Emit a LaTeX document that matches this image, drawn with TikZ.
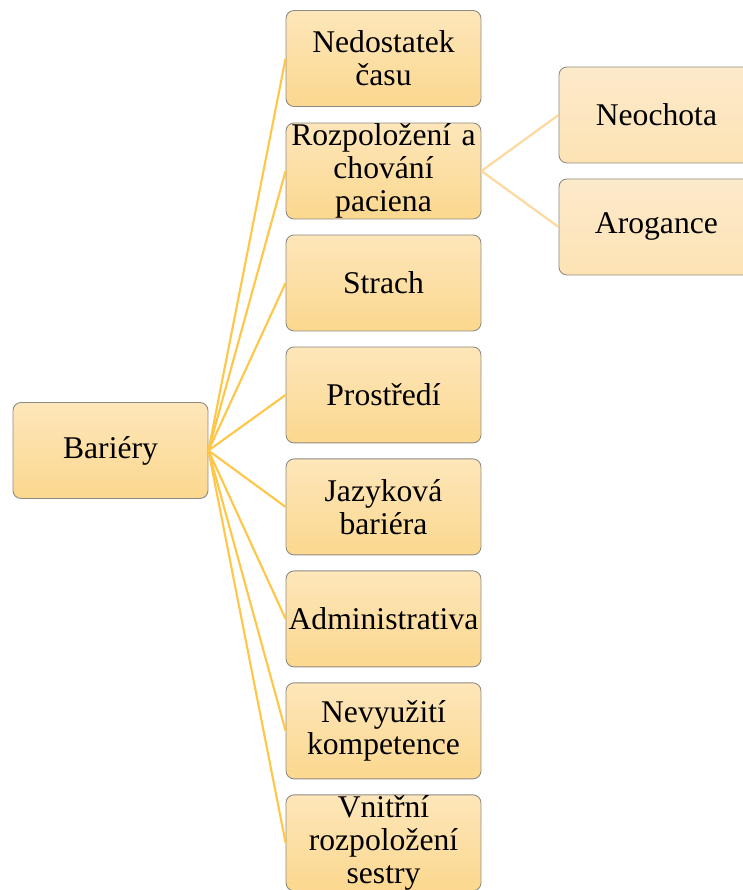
\documentclass[tikz,border=0pt]{standalone}
\usepackage{fontspec}
\setmainfont{Liberation Serif}
\usepackage{tikz}
\usetikzlibrary{positioning,shapes}
\definecolor{boxtop}{HTML}{FDE6BA}
\definecolor{boxbot}{HTML}{FCD88F}
\definecolor{subtop}{HTML}{FDEACB}
\definecolor{subbot}{HTML}{FDE3B4}
\definecolor{boxline}{HTML}{8E8A82}
\definecolor{linkA}{HTML}{FFC648}
\definecolor{linkB}{HTML}{FDD89C}
\tikzstyle{bar} = [rectangle, rounded corners=0.16cm, minimum width=3.9cm, minimum height=1.92cm, inner sep=0pt, text width=3.9cm, align=center, draw=boxline, line width=0.5pt, top color=boxtop, bottom color=boxbot, font=\fontsize{18}{18.6}\selectfont]
\tikzstyle{subbar} = [bar, top color=subtop, bottom color=subbot]
\tikzstyle{link} = [draw=linkA, line width=1.2pt]
\tikzstyle{sublink} = [draw=linkB, line width=1.2pt]

\begin{document}
\begin{tikzpicture}[x=0.02cm,y=-0.02cm]
 \clip (0,0) rectangle (743,890);
 \useasboundingbox (0,0) rectangle (743,890);
 \node[bar] (bariery) at (110.5,450.5) {Bariéry};
 \node[bar] (cas) at (383.5,58.5) {Nedostatek\\času};
 \node[bar] (pacient) at (cas) [yshift=-2.25cm]
              {Rozpoložení a\\chování\\paciena};
 \node[bar] (strach) at (pacient) [yshift=-2.24cm] {Strach};
 \node[bar] (prostredi) at (strach) [yshift=-2.24cm] {Prostředí};
 \node[bar] (jazyk) at (prostredi) [yshift=-2.24cm] {Jazyková\\bariéra};
 \node[bar] (admin) at (jazyk) [yshift=-2.24cm] {Administrativa};
 \node[bar] (kompetence) at (admin) [yshift=-2.24cm]
              {Nevyužití\\kompetence};
 \node[bar] (sestra) at (kompetence) [yshift=-2.24cm]
              {Vnitřní\\rozpoložení\\sestry};
 \node[subbar] (neochota) at (pacient) [xshift=5.46cm,yshift=1.12cm] {Neochota};
 \node[subbar] (arogance) at (pacient) [xshift=5.46cm,yshift=-1.12cm] {Arogance};
% spojnice
 \foreach \n in {cas,pacient,strach,prostredi,jazyk,admin,kompetence,sestra}
   \draw[link] (bariery.east) -- (\n.west);
 \draw[sublink] (pacient.east) -- (neochota.west);
 \draw[sublink] (pacient.east) -- (arogance.west);
\end{tikzpicture}
\end{document}
